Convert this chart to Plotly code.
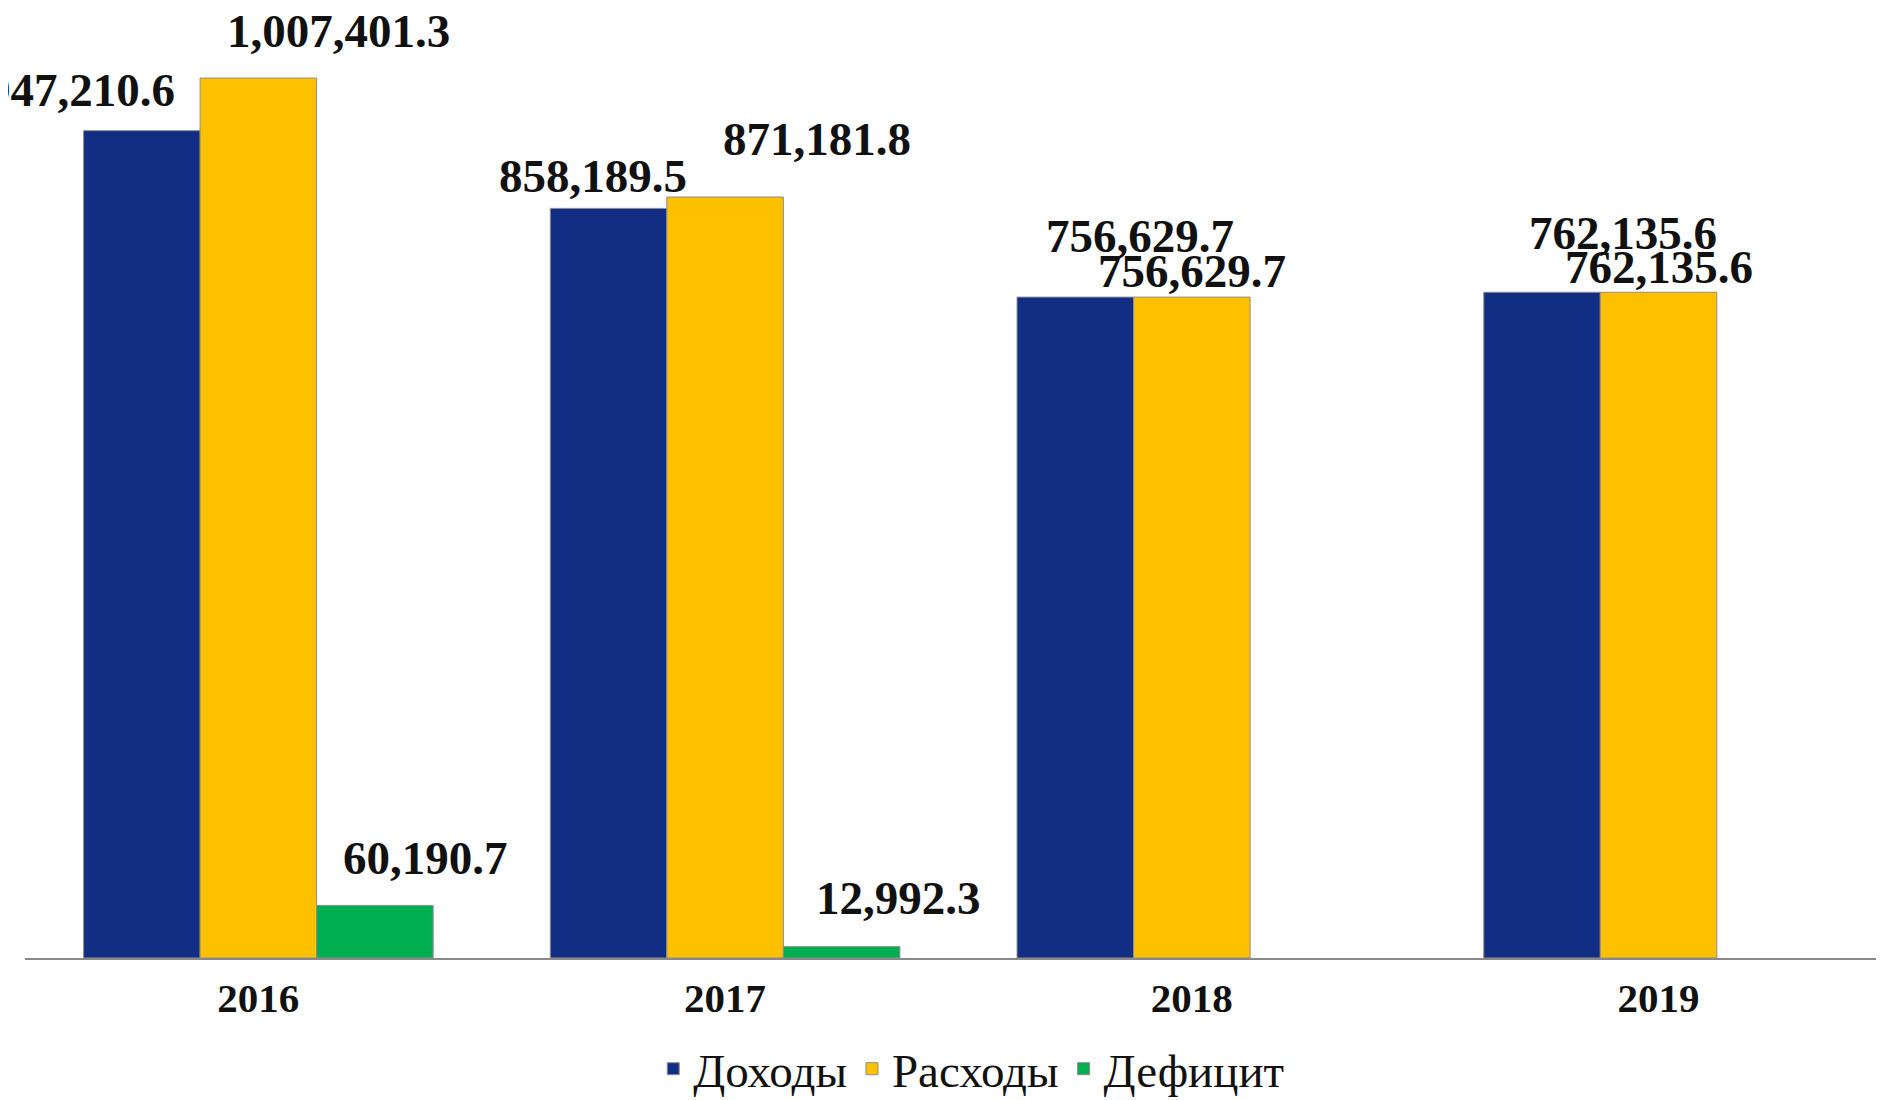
import plotly.graph_objects as go

years = ["2016", "2017", "2018", "2019"]
income = [947210.6, 858189.5, 756629.7, 762135.6]        # Доходы
expenses = [1007401.3, 871181.8, 756629.7, 762135.6]     # Расходы
deficit = [60190.7, 12992.3, None, None]                 # Дефицит
series_names = ["Доходы", "Расходы", "Дефицит"]

colors = ["#122E84", "#FFC000", "#00B050"]
FONT = "Liberation Serif"

fig = go.Figure()
for name, vals, col in zip(series_names, [income, expenses, deficit], colors):
    fig.add_trace(go.Bar(
        x=years, y=vals, name=name,
        marker=dict(color=col, line=dict(color="#8c8c8c", width=1)),
        hoverinfo="x+y+name",
    ))

# label placement styles (pixel shifts relative to each bar's top-centre)
bar_px = 116.7
label_dx = {0: [-60, -15, 65, 81], 1: [80, 92, 0, 0], 2: [50, 56, 0, 0]}
label_dy = {0: [41, 32, 61, 59], 1: [47, 58, 26, 25], 2: [47, 49, 0, 0]}

annotations = []
for si, vals in enumerate([income, expenses, deficit]):
    for ci, v in enumerate(vals):
        if v is None:
            continue
        annotations.append(dict(
            x=ci, y=v, xref="x", yref="y",
            text="<b>" + f"{v:,.1f}" + "</b>", showarrow=False,
            xanchor="center", yanchor="middle",
            xshift=int(round((si - 1) * bar_px + label_dx[si][ci])),
            yshift=label_dy[si][ci],
            font=dict(family=FONT, size=47, color="#111111"),
        ))

# page body has an 8px margin, so the figure is sized to fit inside the window
fig.update_layout(
    width=1876, height=1092,
    margin=dict(l=17, r=0, t=0, b=142, autoexpand=False),
    paper_bgcolor="white", plot_bgcolor="white",
    barmode="group", bargap=0.251, bargroupgap=0,
    font=dict(family=FONT, color="#111111"),
    annotations=annotations,
    xaxis=dict(
        type="category", range=[-0.5, 3.483], automargin=False,
        showline=True, linecolor="#8a8a8a", linewidth=2,
        ticks="", showgrid=False, zeroline=False, ticklabelstandoff=3,
        tickfont=dict(family=FONT, size=41, color="#111111"),
        tickvals=years, ticktext=["<b>" + y + "</b>" for y in years],
    ),
    yaxis=dict(range=[0, 1087600], visible=False, showgrid=False, zeroline=False),
    legend=dict(
        orientation="h", x=0.509, xanchor="center", y=-0.117, yanchor="middle",
        font=dict(family=FONT, size=47, color="#111111"),
        itemwidth=30, tracegroupgap=0, bgcolor="rgba(0,0,0,0)",
    ),
    showlegend=True,
)

fig.write_html("out.html")
